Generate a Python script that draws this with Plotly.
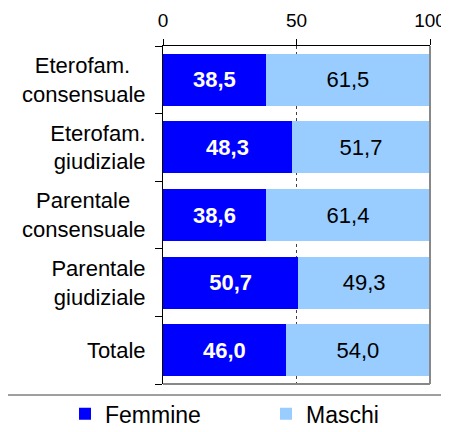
import plotly.graph_objects as go

# dati
categorie = ['Eterofam. consensuale', 'Eterofam. giudiziale', 'Parentale consensuale',
             'Parentale giudiziale', 'Totale']
# etichette su due righe, centrate come nell'originale
etichette = ['Eterofam.\u2002\u2009<br>consensuale', 'Eterofam.<br>giudiziale',
             'Parentale\u2002\u2009<br>consensuale', 'Parentale<br>giudiziale', 'Totale']
femmine = [38.5, 48.3, 38.6, 50.7, 46.0]
maschi = [61.5, 51.7, 61.4, 49.3, 54.0]
tick_x = [0, 50, 100]

FONT = 'Liberation Sans, Arial, sans-serif'

fig = go.Figure()
fig.add_trace(go.Bar(y=categorie, x=femmine, name='Femmine', orientation='h',
                     marker=dict(color='#0000FF', line=dict(width=0)),
                     texttemplate='%{x:.1f}', textposition='inside', insidetextanchor='middle',
                     textfont=dict(color='white', size=22, family=FONT, weight='bold')))
fig.add_trace(go.Bar(y=categorie, x=maschi, name='Maschi', orientation='h',
                     marker=dict(color='#99CCFF', line=dict(width=0)),
                     texttemplate='%{x:.1f}', textposition='inside', insidetextanchor='middle',
                     textfont=dict(color='black', size=22, family=FONT)))

# la pagina html ha un margine di 8px: figura ridotta di conseguenza
fig.update_layout(
    width=441, height=416,
    barmode='stack', bargap=0.23,
    separators=',.',
    plot_bgcolor='white', paper_bgcolor='white',
    margin=dict(l=155, r=19, t=38, b=40, autoexpand=False),
    font=dict(family=FONT, color='black'),
    xaxis=dict(side='top', range=[0, 100], tickvals=tick_x, ticks='outside', ticklen=6,
               tickcolor='black', showline=True, linecolor='black', linewidth=1,
               showgrid=True, gridcolor='#404040', griddash='dot', gridwidth=1,
               zeroline=False, tickfont=dict(size=19), ticklabelstandoff=4,
               ticklabeloverflow='allow', automargin=False),
    yaxis=dict(autorange='reversed', ticks='outside', tickson='boundaries', ticklen=7,
               tickcolor='black', showline=True, linecolor='black', linewidth=1,
               tickvals=categorie, ticktext=etichette,
               showgrid=False, tickfont=dict(size=22), ticklabelstandoff=12,
               automargin=False),
    showlegend=True,
    legend=dict(orientation='h', x=-0.367, xanchor='left', y=-0.088, yanchor='middle',
                font=dict(size=23), entrywidth=156, traceorder='normal',
                bgcolor='rgba(0,0,0,0)'),
)

# bordi grigi destro e inferiore dell'area del grafico
fig.add_shape(type='line', xref='paper', yref='paper', x0=1, x1=1, y0=0, y1=1,
              line=dict(color='#888888', width=2))
fig.add_shape(type='line', xref='paper', yref='paper', x0=0, x1=1, y0=0, y1=0,
              line=dict(color='#888888', width=2))
# riquadro legenda
fig.add_shape(type='rect', xref='paper', yref='paper', x0=-0.59, x1=1.2, y0=-0.0325, y1=-0.5,
              line=dict(color='#808080', width=1.5), fillcolor='rgba(0,0,0,0)')

fig.write_html('out.html')
